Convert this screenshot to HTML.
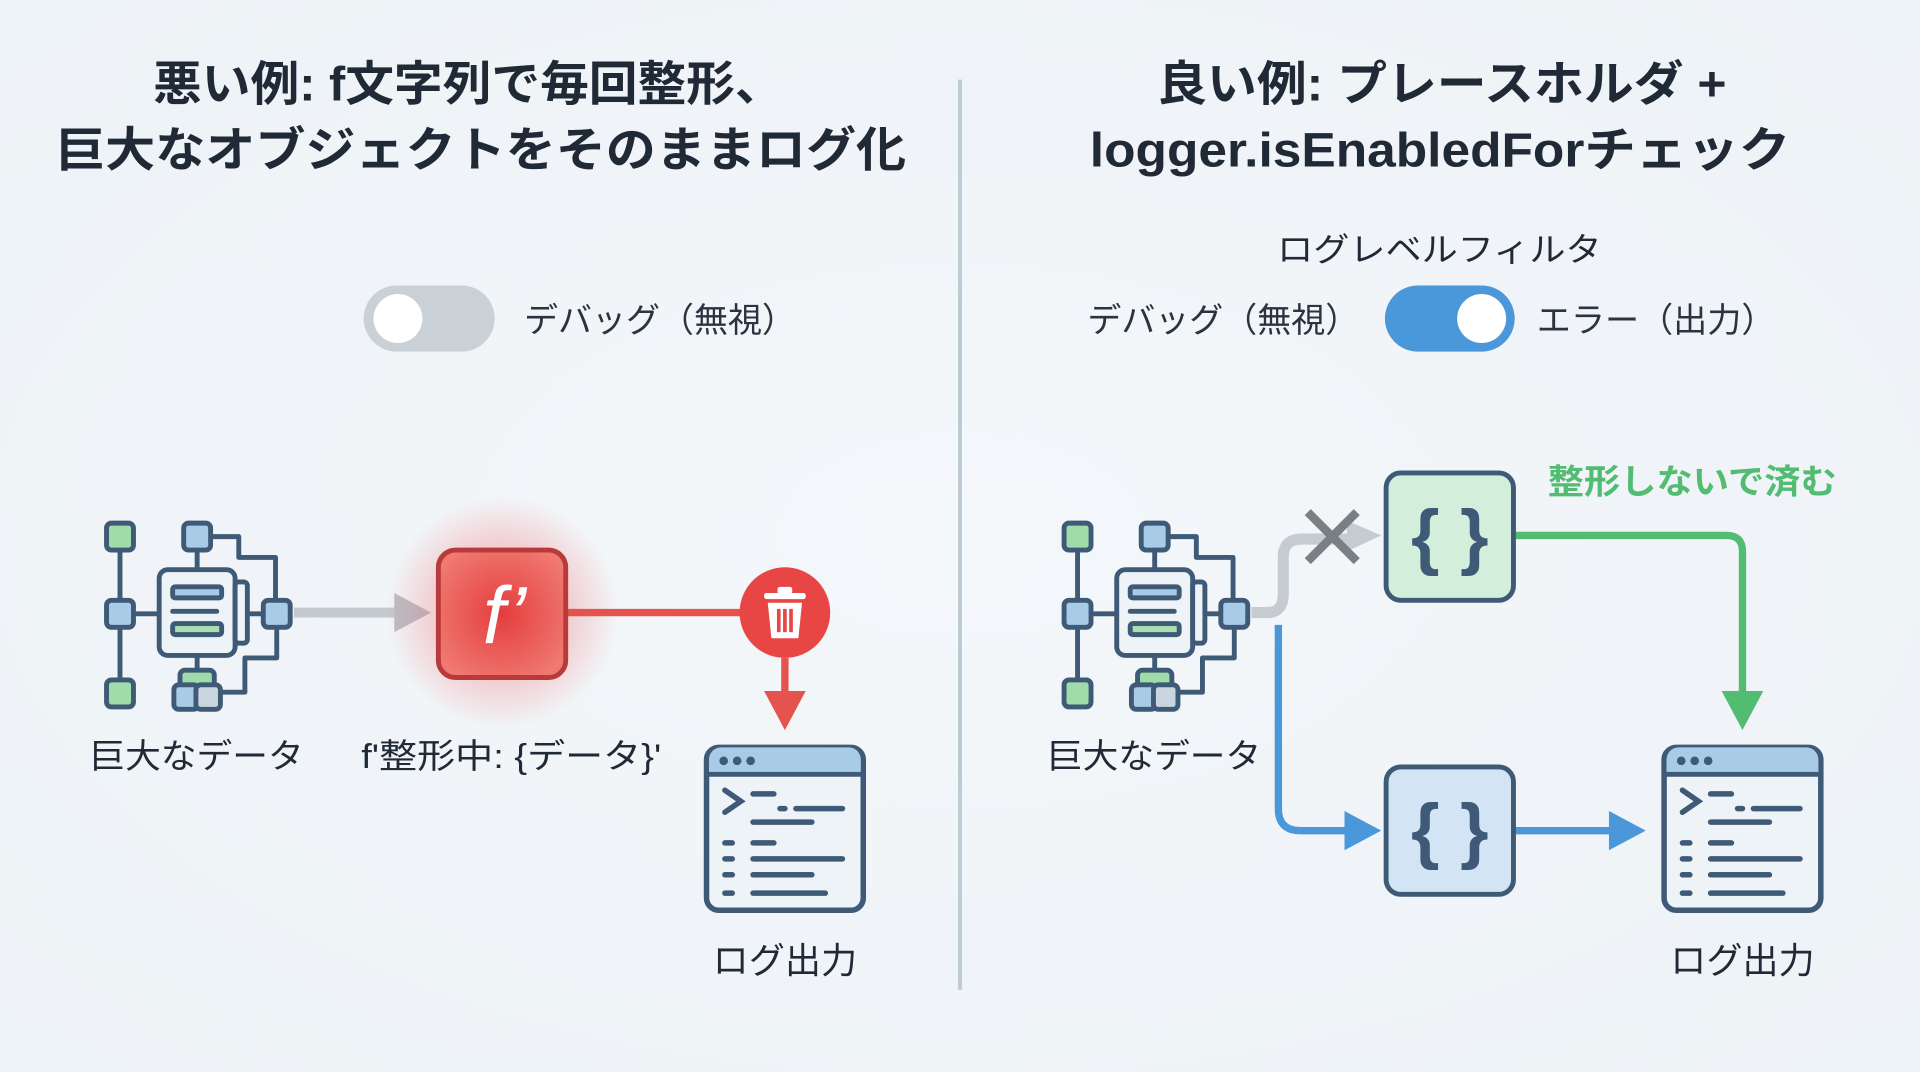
<!DOCTYPE html>
<html><head><meta charset="utf-8"><style>
html,body{margin:0;padding:0;background:#f1f5f8;}
svg{display:block;}
text{font-family:"Liberation Sans","Noto Sans CJK JP",sans-serif;}
</style></head><body>
<svg width="1920" height="1072" viewBox="0 0 1568 875" preserveAspectRatio="none" xmlns="http://www.w3.org/2000/svg">
<defs>
<radialGradient id="bg" cx="50%" cy="50%" r="70%"><stop offset="0" stop-color="#f4f7fa"/><stop offset="1" stop-color="#edf2f6"/></radialGradient>
<radialGradient id="glow" cx="50%" cy="50%" r="50%"><stop offset="0" stop-color="#f05050" stop-opacity="0.55"/><stop offset="0.6" stop-color="#f06060" stop-opacity="0.25"/><stop offset="1" stop-color="#f06060" stop-opacity="0"/></radialGradient>
<radialGradient id="fbox" cx="50%" cy="50%" r="60%"><stop offset="0" stop-color="#e43d3d"/><stop offset="1" stop-color="#f07a72"/></radialGradient>
<g id="data" stroke="#3e5a76" stroke-width="4" fill="none" stroke-linejoin="round">
 <line x1="13" y1="12" x2="13" y2="142"/>
 <line x1="24" y1="76" x2="45" y2="76"/>
 <line x1="107" y1="76" x2="130" y2="76"/>
 <line x1="76" y1="24" x2="76" y2="40"/>
 <line x1="76" y1="110" x2="76" y2="125"/>
 <path d="M87 13 H110 V30 H140 V65"/>
 <path d="M141 87 V112 H115 V140 H95"/>
 <rect x="45" y="40" width="62" height="70" rx="7" fill="#eef3f8"/>
 <rect x="107" y="50" width="10" height="50" rx="3" fill="#eef3f8"/>
 <rect x="56" y="54" width="40" height="9" rx="2" fill="#a8cbe8"/>
 <line x1="56" y1="74" x2="92" y2="74" stroke-linecap="round"/>
 <rect x="56" y="84" width="40" height="9" rx="2" fill="#a9dcae"/>
 <rect x="2" y="2" width="22" height="22" rx="4" fill="#9fdca9"/>
 <rect x="2" y="65" width="22" height="22" rx="4" fill="#a8cbe8"/>
 <rect x="2" y="130" width="22" height="22" rx="4" fill="#9fdca9"/>
 <rect x="65" y="2" width="22" height="22" rx="4" fill="#a8cbe8"/>
 <rect x="130" y="65" width="22" height="22" rx="4" fill="#a8cbe8"/>
 <rect x="62" y="122" width="28" height="14" rx="4" fill="#9fdca9"/>
 <rect x="57" y="134" width="20" height="20" rx="4" fill="#a8cbe8"/>
 <rect x="75" y="134" width="20" height="20" rx="4" fill="#c9d6e0"/>
</g>
<g id="log">
 <rect x="2" y="2" width="128" height="133" rx="10" fill="#eef3f8" stroke="#3e5a76" stroke-width="4.5"/>
 <path d="M4 22 V12 a10 10 0 0 1 10 -10 H118 a10 10 0 0 1 10 10 V22 Z" fill="#a8cbe8"/>
 <line x1="2" y1="24" x2="130" y2="24" stroke="#3e5a76" stroke-width="4"/>
 <circle cx="16" cy="13" r="3.5" fill="#3e5a76"/><circle cx="27" cy="13" r="3.5" fill="#3e5a76"/><circle cx="38" cy="13" r="3.5" fill="#3e5a76"/>
 <g stroke="#3e5a76" stroke-width="4.5" stroke-linecap="round" fill="none">
  <path d="M17 37 L30 46 L17 55"/>
  <line x1="40" y1="40" x2="57" y2="40"/>
  <line x1="62" y1="52" x2="66" y2="52"/><line x1="75" y1="52" x2="113" y2="52"/>
  <line x1="40" y1="63" x2="88" y2="63"/>
  <line x1="17" y1="80" x2="23" y2="80"/><line x1="40" y1="80" x2="57" y2="80"/>
  <line x1="17" y1="93" x2="23" y2="93"/><line x1="40" y1="93" x2="113" y2="93"/>
  <line x1="17" y1="106" x2="23" y2="106"/><line x1="40" y1="106" x2="88" y2="106"/>
  <line x1="17" y1="121" x2="23" y2="121"/><line x1="40" y1="121" x2="99" y2="121"/>
 </g>
</g>
</defs>
<rect width="1568" height="875" fill="url(#bg)"/>

<!-- titles -->
<g font-weight="bold" font-size="39" fill="#1f2a36" lengthAdjust="spacingAndGlyphs">
 <text x="125" y="82" textLength="515" lengthAdjust="spacingAndGlyphs">悪い例: f文字列で毎回整形、</text>
 <text x="45" y="136" textLength="695" lengthAdjust="spacingAndGlyphs">巨大なオブジェクトをそのままログ化</text>
 <text x="945" y="82" textLength="465" lengthAdjust="spacingAndGlyphs">良い例: プレースホルダ +</text>
 <text x="890" y="136" textLength="572" lengthAdjust="spacingAndGlyphs">logger.isEnabledForチェック</text>
</g>
<line x1="784" y1="65" x2="784" y2="808" stroke="#b9c8d2" stroke-width="3"/>

<!-- left toggle -->
<rect x="297" y="233" width="107" height="54" rx="27" fill="#c9d0d6"/>
<circle cx="325" cy="260" r="20" fill="#fff"/>
<text x="428" y="271" font-size="28" fill="#2a3440" textLength="222" lengthAdjust="spacingAndGlyphs">デバッグ（無視）</text>

<!-- left flow -->
<use href="#data" x="85" y="425"/>
<line x1="240" y1="500" x2="326" y2="500" stroke="#c3c9ce" stroke-width="8"/>
<path d="M322 484 L352 500 L322 516 Z" fill="#b8bfc5"/>
<circle cx="410" cy="500" r="95" fill="url(#glow)"/>
<line x1="463" y1="500" x2="610" y2="500" stroke="#e5534f" stroke-width="6"/>
<rect x="358" y="449" width="104" height="104" rx="14" fill="url(#fbox)" stroke="#b83a3a" stroke-width="4"/>
<text x="412" y="525" font-family="Liberation Serif,serif" font-style="italic" font-size="66" fill="#fff" text-anchor="middle">f’</text>
<circle cx="641" cy="500" r="37" fill="#e84545"/>
<g fill="#fff"><rect x="624" y="484" width="34" height="5" rx="2"/><rect x="635" y="479" width="12" height="6" rx="2"/><path d="M627 492 H655 L652 521 H630 Z"/></g>
<g stroke="#e84545" stroke-width="3"><line x1="636" y1="497" x2="636" y2="516"/><line x1="641" y1="497" x2="641" y2="516"/><line x1="646" y1="497" x2="646" y2="516"/></g>
<line x1="641" y1="537" x2="641" y2="568" stroke="#e5534f" stroke-width="6"/>
<path d="M624 564 L658 564 L641 596 Z" fill="#e5534f"/>
<text x="73" y="627" font-size="28" fill="#1f2a36" textLength="175" lengthAdjust="spacingAndGlyphs">巨大なデータ</text>
<text x="295" y="627" font-size="28" fill="#1f2a36" textLength="245" lengthAdjust="spacingAndGlyphs">f'整形中: {データ}'</text>
<use href="#log" x="575" y="608"/>
<text x="582" y="794" font-size="29" fill="#1f2a36" textLength="118" lengthAdjust="spacingAndGlyphs">ログ出力</text>

<!-- right filter -->
<text x="1043" y="213" font-size="27" fill="#1f2a36" textLength="265" lengthAdjust="spacingAndGlyphs">ログレベルフィルタ</text>
<text x="888" y="271" font-size="28" fill="#2a3440" textLength="222" lengthAdjust="spacingAndGlyphs">デバッグ（無視）</text>
<rect x="1131" y="233" width="106" height="54" rx="27" fill="#4a97da"/>
<circle cx="1210" cy="260" r="20" fill="#fff"/>
<text x="1255" y="271" font-size="28" fill="#2a3440" textLength="195" lengthAdjust="spacingAndGlyphs">エラー（出力）</text>

<!-- right flow -->
<path d="M1022 500 H1035 Q1048 500 1048 485 V455 Q1048 440 1063 440 H1105" stroke="#c5cbd0" stroke-width="9" fill="none"/>
<path d="M1100 425 L1128 437 L1100 450 Z" fill="#c5cbd0"/>
<g stroke="#7a7f84" stroke-width="7"><line x1="1068" y1="418" x2="1108" y2="458"/><line x1="1108" y1="418" x2="1068" y2="458"/></g>
<path d="M1044 510 V660 Q1044 678 1062 678 H1102" stroke="#4a97da" stroke-width="6" fill="none"/>
<path d="M1098 662 L1128 678 L1098 694 Z" fill="#4a97da"/>
<line x1="1237" y1="678" x2="1318" y2="678" stroke="#4a97da" stroke-width="6"/>
<path d="M1314 662 L1344 678 L1314 694 Z" fill="#4a97da"/>
<path d="M1237 437 H1410 Q1423 437 1423 450 V568" stroke="#52bd72" stroke-width="6" fill="none"/>
<path d="M1406 564 L1440 564 L1423 596 Z" fill="#52bd72"/>
<use href="#data" x="867" y="425"/>
<rect x="1132" y="386" width="104" height="104" rx="12" fill="#d3eedb" stroke="#3e5a76" stroke-width="4"/>
<text x="1184" y="458" font-size="60" fill="#3e5a76" text-anchor="middle" font-weight="bold">{ }</text>
<rect x="1132" y="626" width="104" height="104" rx="12" fill="#d3e5f5" stroke="#3e5a76" stroke-width="4"/>
<text x="1184" y="698" font-size="60" fill="#3e5a76" text-anchor="middle" font-weight="bold">{ }</text>
<text x="1264" y="403" font-size="28" font-weight="bold" fill="#52bd72" textLength="236" lengthAdjust="spacingAndGlyphs">整形しないで済む</text>
<text x="855" y="627" font-size="28" fill="#1f2a36" textLength="175" lengthAdjust="spacingAndGlyphs">巨大なデータ</text>
<use href="#log" x="1357" y="608"/>
<text x="1364" y="794" font-size="29" fill="#1f2a36" textLength="118" lengthAdjust="spacingAndGlyphs">ログ出力</text>
</svg>
</body></html>
